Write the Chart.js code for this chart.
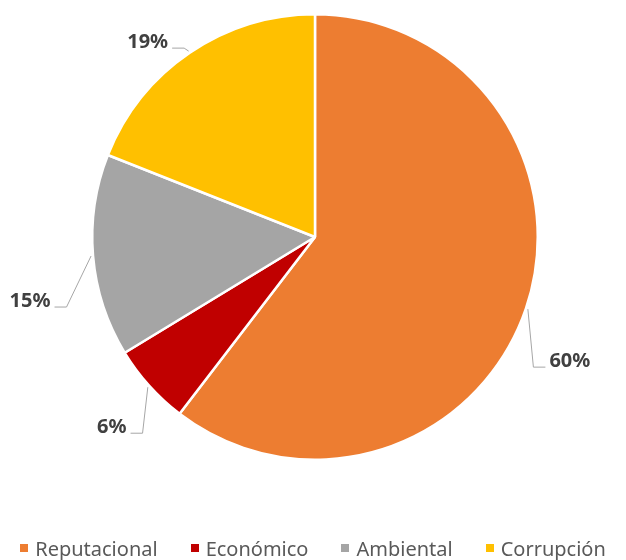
<!DOCTYPE html>
<html>
<head>
<meta charset="utf-8">
<script src="https://cdn.jsdelivr.net/npm/chart.js@4.4.1/dist/chart.umd.min.js"></script>
<style>
  html, body { margin: 0; padding: 0; background: #fff; }
  #wrap { position: relative; width: 626px; height: 560px; }
  #riskLegend {
    position: absolute; left: 0; top: 535px; width: 626px; height: 26px;
    display: flex; justify-content: center; align-items: center; gap: 33px;
    font-family: "Noto Sans", sans-serif; font-size: 20px; color: #595959;
  }
  #riskLegend .item { display: flex; align-items: center; white-space: nowrap; }
  #riskLegend .box { width: 8px; height: 8px; margin-right: 7px; }
</style>
</head>
<body>
<div id="wrap">
  <canvas id="riskChart" width="626" height="560"></canvas>
  <div id="riskLegend"></div>
</div>
<script>
// risk categories and their share of the total (labels show them rounded)
const CATEGORIES = ["Reputacional", "Económico", "Ambiental", "Corrupción"];
const SHARES = [60.4, 5.9, 14.7, 19.0];
const COLORS = ["#ED7D31", "#C00000", "#A5A5A5", "#FFC000"];

// ---------- Data labels with leader lines ----------
const leaderLabels = {
  id: "leaderLabels",
  afterDatasetsDraw(chart, args, opts) {
    const ctx = chart.ctx;
    const values = chart.data.datasets[0].data;
    const total = values.reduce((s, v) => s + v, 0);
    chart.getDatasetMeta(0).data.forEach((arc, i) => {
      const { x, y, startAngle, endAngle, outerRadius } =
        arc.getProps(["x", "y", "startAngle", "endAngle", "outerRadius"], true);
      const mid = (startAngle + endAngle) / 2;
      const ax = x + Math.cos(mid) * (outerRadius + 2);
      const ay = y + Math.sin(mid) * (outerRadius + 2);
      const [dx, dy] = opts.offsets[i];
      const text = Math.round(values[i] / total * 100) + "%";

      ctx.save();
      ctx.font = opts.font;
      const w = ctx.measureText(text).width;
      const lx = ax + dx, ly = ay + dy;
      const side = dx >= 0 ? -1 : 1;          // points back toward the pie
      const edge = lx + side * w / 2;
      const lineY = ly + 6;

      ctx.strokeStyle = opts.lineColor;
      ctx.lineWidth = 1;
      ctx.beginPath();
      ctx.moveTo(ax, ay);
      ctx.lineTo(edge + side * 16, lineY);
      ctx.lineTo(edge + side * 4, lineY);
      ctx.stroke();

      ctx.fillStyle = opts.color;
      ctx.textAlign = "center";
      ctx.textBaseline = "middle";
      ctx.fillText(text, lx, ly);
      ctx.restore();
    });
  }
};

// ---------- HTML legend ----------
const htmlLegend = {
  id: "htmlLegend",
  afterUpdate(chart, args, opts) {
    const box = document.getElementById(opts.containerID);
    box.innerHTML = "";
    const items = chart.options.plugins.legend.labels.generateLabels(chart);
    items.forEach(item => {
      const el = document.createElement("span");
      el.className = "item";
      const sw = document.createElement("span");
      sw.className = "box";
      sw.style.background = item.fillStyle;
      const label = document.createElement("span");
      label.textContent = item.text;
      el.appendChild(sw);
      el.appendChild(label);
      box.appendChild(el);
    });
  }
};

new Chart(document.getElementById("riskChart"), {
  type: "pie",
  data: {
    labels: CATEGORIES,
    datasets: [{
      data: SHARES,
      backgroundColor: COLORS,
      borderColor: "#ffffff",
      borderWidth: 2.5
    }]
  },
  options: {
    responsive: false,
    animation: false,
    layout: { padding: { top: 13, bottom: 99, left: 4, right: 0 } },
    plugins: {
      legend: { display: false },
      tooltip: { enabled: false },
      htmlLegend: { containerID: "riskLegend" },
      leaderLabels: {
        font: "bold 20px 'Noto Sans', sans-serif",
        color: "#404040",
        lineColor: "#A6A6A6",
        offsets: [[42, 52], [-36, 40], [-61, 45], [-41, -9]]
      }
    }
  },
  plugins: [leaderLabels, htmlLegend]
});
</script>
</body>
</html>
